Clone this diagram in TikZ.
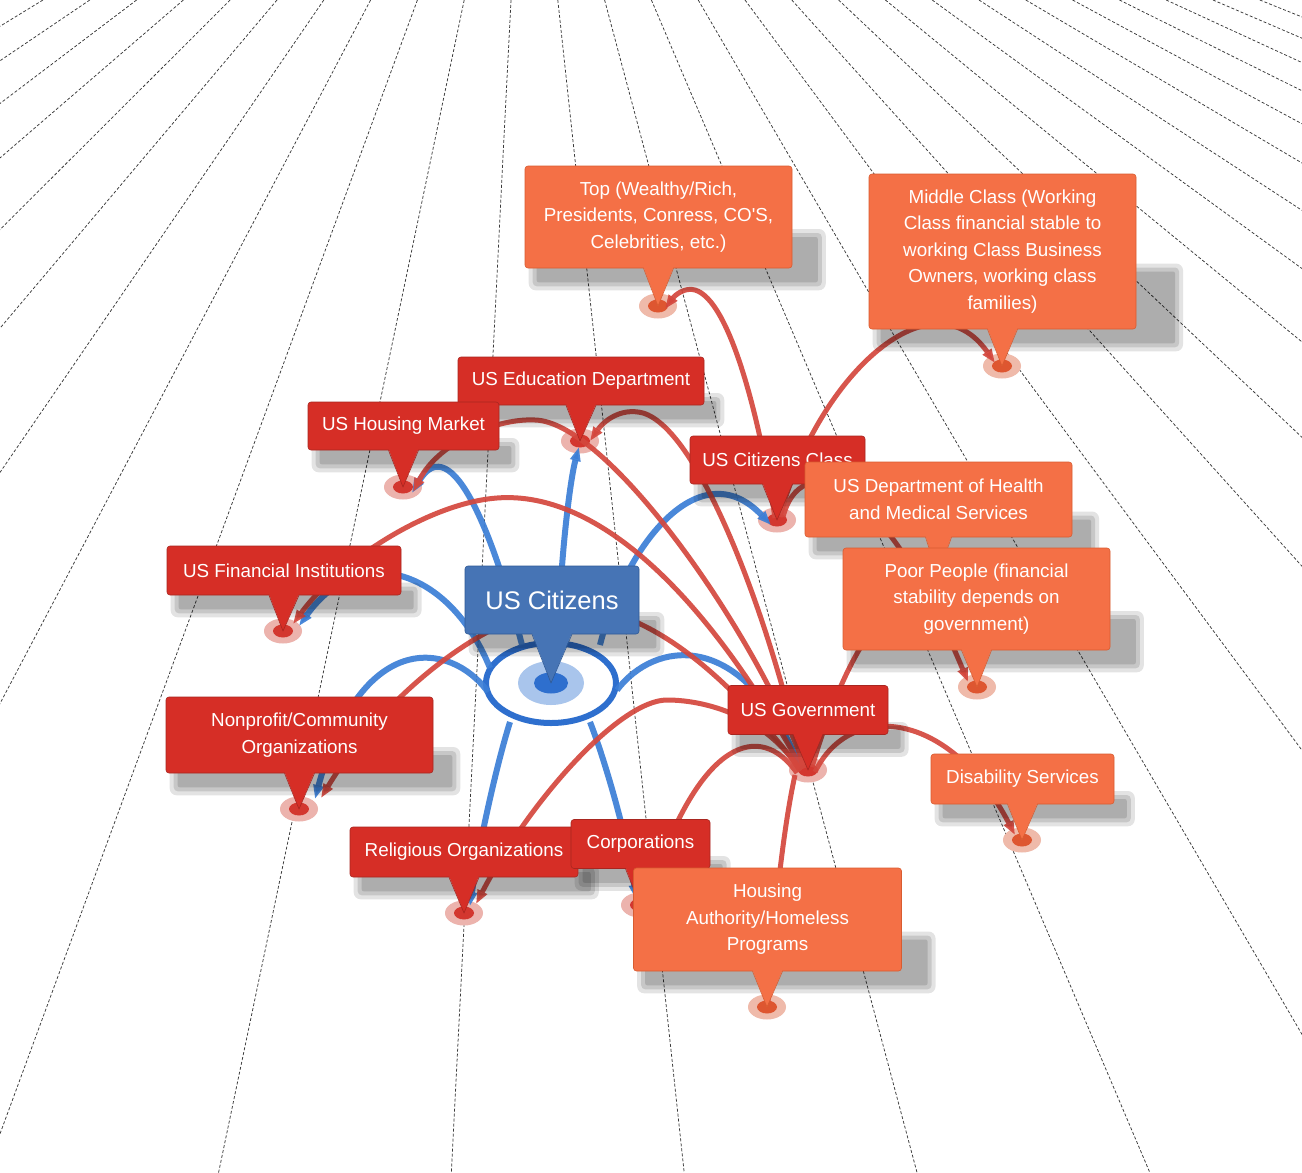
\documentclass[tikz,border=0pt]{standalone}
\usepackage{fontspec}
\setmainfont{Liberation Sans}
\usetikzlibrary{arrows.meta,calc}
\definecolor{orF}{HTML}{F47046}
\definecolor{orD}{HTML}{D85C30}
\definecolor{rdF}{HTML}{D62E26}
\definecolor{rdD}{HTML}{A82620}
\definecolor{blF}{HTML}{4674B5}
\definecolor{blD}{HTML}{2F5A96}
\definecolor{edR}{HTML}{D4473D}
\definecolor{edB}{HTML}{3B7ED6}
\definecolor{haR}{HTML}{ECB3AD}
\definecolor{doR}{HTML}{D3372F}
\definecolor{haO}{HTML}{EFBAAA}
\definecolor{doO}{HTML}{DE5630}
\definecolor{riB}{HTML}{2E6FCE}
\definecolor{haB}{HTML}{A9C5EC}
\definecolor{grd}{HTML}{3A3A3A}
\pgfdeclarelayer{grid}
\pgfdeclarelayer{markers}
\pgfdeclarelayer{edges}
\pgfdeclarelayer{shadows}
\pgfsetlayers{grid,markers,edges,shadows,main}
\tikzset{
  cbox/.style={rectangle, rounded corners=3pt, line width=0.6pt, text=white, align=center, inner sep=0pt, font=\fontsize{18.8}{26.5}\selectfont},
  redline/.style={draw=edR, line width=5pt, opacity=0.92},
  blueline/.style={draw=edB, line width=6pt, opacity=0.92},
  arrowend/.style={-{Triangle[length=14pt,width=10pt]}},
  gridline/.style={draw=grd, line width=0.75pt, dash pattern=on 3pt off 2pt},
}
\newcommand\mk[3]{%
  \coordinate (#1) at #2;
  \begin{pgfonlayer}{markers}
    \fill[ha#3] (#1) ellipse [x radius=19pt, y radius=12.5pt];
    \fill[do#3] (#1) ellipse [x radius=10pt, y radius=6.5pt];
  \end{pgfonlayer}}
% 1 name, 2 kind, 3 cx, 4 cy, 5 w, 6 h, 7 marker, 8 half base, 9 text
\newcommand\callout[9]{%
  \node[cbox, fill=#2F, draw=#2D, minimum width=#5pt, minimum height=#6pt] (#1) at (#3,#4) {#9};
  \fill[#2F] ($(#1.south)+(-#8,-1.5)$) -- (#7) -- ($(#1.south)+(#8,-1.5)$) -- cycle;
  \draw[#2D, line width=0.6pt, line join=round] ($(#1.south)+(-#8,0)$) -- (#7) -- ($(#1.south)+(#8,0)$);
  \begin{pgfonlayer}{shadows}
    \fill[black,opacity=0.11,rounded corners=7pt] ($(#1.west)+(4,12)$) rectangle ($(#1.south east)+({0.25*#6+8},22)$);
    \fill[black,opacity=0.12,rounded corners=4pt] ($(#1.west)+(8,16)$) rectangle ($(#1.south east)+({0.25*#6+4},18)$);
    \fill[black,opacity=0.13,rounded corners=2pt] ($(#1.west)+(12,20)$) rectangle ($(#1.south east)+({0.25*#6},14)$);
  \end{pgfonlayer}}
\begin{document}
\begin{tikzpicture}[x=1pt,y=-1pt]
\useasboundingbox (0,0) rectangle (1302,1173);
\begin{pgfonlayer}{grid}
  \fill[white] (0,0) rectangle (1302,1173);
  \begin{scope}
    \clip (0,0) rectangle (1302,1173);
    \foreach \k in {-11,...,17}{
      \pgfmathsetmacro\xa{511+46.8*\k}
      \pgfmathsetmacro\xb{\xa+(\xa-526)/295*1300}
      \draw[gridline] (\xa,0) -- (\xb,1300);
    }
  \end{scope}
\end{pgfonlayer}

% markers
\mk{mTop}{(658,306)}{O}
\mk{mMid}{(1002,366)}{O}
\mk{mEdu}{(580,441)}{R}
\mk{mHou}{(403,487)}{R}
\mk{mCls}{(777,520)}{R}
\mk{mHea}{(938,575)}{O}
\mk{mPoor}{(977,687)}{O}
\mk{mFin}{(283,631)}{R}
\mk{mNon}{(299,809)}{R}
\mk{mGov}{(808,770)}{R}
\mk{mDis}{(1022,840)}{O}
\mk{mRel}{(464,913)}{R}
\mk{mCor}{(640,905)}{R}
\mk{mHA}{(767,1007)}{O}
\coordinate (mCit) at (551,683);
\begin{pgfonlayer}{markers}
  \fill[haB] (mCit) ellipse [x radius=33pt, y radius=22pt];
  \fill[riB] (mCit) ellipse [x radius=17pt, y radius=10.5pt];
  \draw[riB, line width=6pt] (mCit) ellipse [x radius=65pt, y radius=40pt];
\end{pgfonlayer}

% connectors
\begin{pgfonlayer}{edges}
  % blue, from US Citizens
  \draw[blueline,arrowend] ($(mCit)+(-29,-38)$) .. controls (495,540) and (452,425) .. ($(mHou)+(9,6)$);
  \draw[blueline,arrowend] ($(mCit)+(7,-38)$) .. controls (560,560) and (570,480) .. ($(mEdu)+(-1,6)$);
  \draw[blueline,arrowend] ($(mCit)+(49,-38)$) .. controls (625,545) and (700,450) .. ($(mCls)+(-6,5)$);
  \draw[blueline,arrowend] ($(mCit)+(-61,-15)$) .. controls (450,570) and (360,540) .. ($(mFin)+(16,-5)$);
  \draw[blueline,arrowend] ($(mCit)+(-63,9)$) .. controls (450,640) and (360,630) .. ($(mNon)+(16,-10)$);
  \draw[blueline,arrowend] ($(mCit)+(-41,39)$) .. controls (495,770) and (478,850) .. ($(mRel)+(6,-7)$);
  \draw[blueline,arrowend] ($(mCit)+(39,39)$) .. controls (605,760) and (628,840) .. ($(mCor)+(-4,-6)$);
  \draw[blueline,arrowend] ($(mCit)+(66,7)$) .. controls (655,640) and (740,630) .. ($(mGov)+(-8,-3)$);
  % red, from US Government
  \draw[redline,arrowend] ($(mGov)+(-3,-2)$) .. controls (760,640) and (610,422) .. (535,420) .. controls (500,418) and (440,440) .. ($(mHou)+(10,5)$);
  \draw[redline,arrowend] ($(mGov)+(-5,-2)$) .. controls (770,620) and (700,430) .. (643,413) .. controls (620,407) and (603,422) .. ($(mEdu)+(10,0)$);
  \draw[redline,arrowend] ($(mGov)+(-6,-1)$) .. controls (710,600) and (600,490) .. (497,498) .. controls (430,503) and (340,560) .. ($(mFin)+(10,-7)$);
  \draw[redline,arrowend] ($(mGov)+(-7,0)$) .. controls (700,640) and (620,600) .. (555,608) .. controls (480,618) and (380,700) .. ($(mNon)+(22,-11)$);
  \draw[redline,arrowend] ($(mGov)+(-8,1)$) .. controls (770,720) and (710,700) .. (667,700) .. controls (620,700) and (530,800) .. ($(mRel)+(12,-9)$);
  \draw[redline,arrowend] ($(mGov)+(-11,3)$) .. controls (760,720) and (700,740) .. ($(mCor)+(8,-7)$);
  \draw[redline] ($(mGov)+(-13,5)$) .. controls (785,820) and (775,900) .. ($(mHA)+(1,-6)$);
  \draw[redline,arrowend] ($(mGov)+(7,2)$) .. controls (850,700) and (950,710) .. ($(mDis)+(-7,-5)$);
  \draw[redline] ($(mGov)+(4,-3)$) .. controls (835,690) and (870,600) .. (mHea);
  % red, from US Citizens Class
  \draw[redline,arrowend] ($(mCls)+(-2,-2)$) .. controls (760,420) and (730,300) .. (695,290) .. controls (685,287) and (675,295) .. ($(mTop)+(7,3)$);
  \draw[redline,arrowend] ($(mCls)+(3,-3)$) .. controls (815,380) and (930,270) .. ($(mMid)+(-7,-3)$);
  \draw[redline,arrowend] ($(mCls)+(6,-3)$) .. controls (800,450) and (880,470) .. ($(mPoor)+(-9,-5)$);
\end{pgfonlayer}

% callout boxes
\callout{nTop}{or}{658.5}{217}{267}{102}{mTop}{15}{Top (Wealthy/Rich,\\ Presidents, Conress, CO\textquotesingle S,\\ Celebrities, etc.)}
\callout{nMid}{or}{1002.5}{251.5}{267}{155}{mMid}{15}{Middle Class (Working\\ Class financial stable to\\ working Class Business\\ Owners, working class\\ families)}
\callout{nEdu}{rd}{581}{381}{246}{48}{mEdu}{15}{US Education Department}
\callout{nHou}{rd}{403.5}{426}{191}{48}{mHou}{15}{US Housing Market}
\callout{nCls}{rd}{777.5}{460}{175}{48}{mCls}{15}{US Citizens Class}
\callout{nHea}{or}{938.5}{499.5}{267}{75}{mHea}{13}{US Department of Health\\ and Medical Services}
\callout{nPoor}{or}{976.5}{599}{267}{102}{mPoor}{15}{Poor People (financial\\ stability depends on\\ government)}
\callout{nFin}{rd}{284}{570.5}{234}{49}{mFin}{15}{US Financial Institutions}
\callout{nCit}{bl}{552}{600}{174}{68}{mCit}{20}{\fontsize{25.5}{30}\selectfont US Citizens}
\callout{nGov}{rd}{808}{710}{160}{49}{mGov}{15}{US Government}
\callout{nNon}{rd}{299.5}{735}{267}{76}{mNon}{15}{Nonprofit/Community\\ Organizations}
\callout{nDis}{or}{1022.5}{779}{183}{50}{mDis}{15}{Disability Services}
\callout{nRel}{rd}{464}{852}{228}{50}{mRel}{15}{Religious Organizations}
\callout{nCor}{rd}{640.5}{844}{139}{49}{mCor}{15}{Corporations}
\callout{nHA}{or}{767.5}{919.5}{268}{103}{mHA}{15}{Housing\\ Authority/Homeless\\ Programs}
\end{tikzpicture}
\end{document}
